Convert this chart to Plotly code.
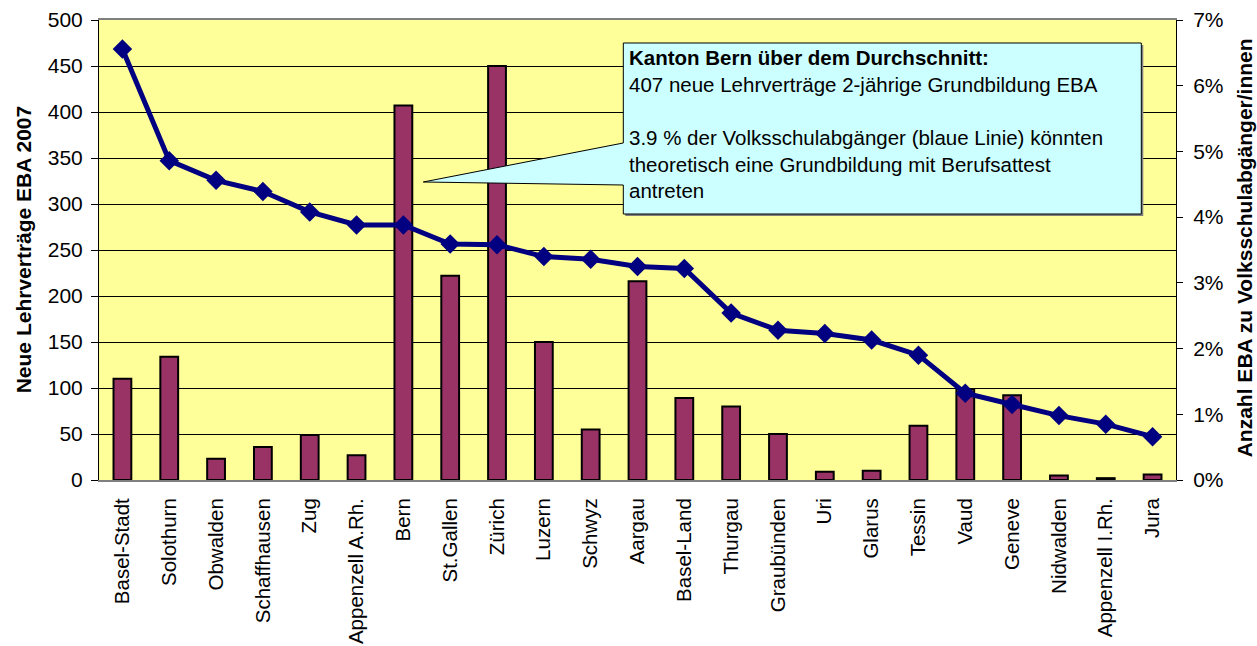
import plotly.graph_objects as go

cantons = ["Basel-Stadt", "Solothurn", "Obwalden", "Schaffhausen", "Zug", "Appenzell A.Rh.",
           "Bern", "St.Gallen", "Zürich", "Luzern", "Schwyz", "Aargau", "Basel-Land", "Thurgau",
           "Graubünden", "Uri", "Glarus", "Tessin", "Vaud", "Geneve", "Nidwalden",
           "Appenzell I.Rh.", "Jura"]
eba_2007 = [110, 134, 23, 36, 49, 27, 407, 222, 450, 150, 55, 216, 89, 80, 50, 9, 10, 59, 99, 92, 5, 2, 6]
eba_share_pct = [6.56, 4.86, 4.56, 4.39, 4.08, 3.88, 3.88, 3.59, 3.58, 3.40, 3.36, 3.25, 3.22, 2.54,
                 2.28, 2.23, 2.13, 1.90, 1.32, 1.15, 0.98, 0.85, 0.66]
eba_share = [v / 100 for v in eba_share_pct]

left_ticks = list(range(0, 501, 50))
right_ticks = [i / 100 for i in range(0, 8)]

W, H = 1257, 646
L, R, T, B = 98.7, 1175.7, 20.0, 480.0
FONT = "Liberation Sans, Arial, sans-serif"


def px(x):
    return (x - L) / (R - L)


def py(y):
    return (B - y) / (B - T)


fig = go.Figure()
fig.add_trace(go.Bar(
    x=cantons, y=eba_2007, width=0.38,
    marker=dict(color="#993366", line=dict(color="black", width=2)),
    yaxis="y", showlegend=False,
))
fig.add_trace(go.Scatter(
    x=cantons, y=eba_share, mode="lines+markers", yaxis="y2",
    line=dict(color="#000080", width=5),
    marker=dict(symbol="diamond", size=15, color="#000080"),
    showlegend=False,
))

# callout shape (box + pointer), with shadow
pts = [(623, 43), (1141, 43), (1141, 214), (623, 214), (623, 185), (423, 182), (623, 143)]


def path_of(points, dx=0, dy=0):
    s = ""
    for i, (a, b) in enumerate(points):
        s += ("M" if i == 0 else "L") + f"{px(a + dx):.5f},{py(b + dy):.5f} "
    return s + "Z"


shapes = [
    dict(type="path", xref="paper", yref="paper", path=path_of(pts[:4], 2, 2),
         fillcolor="#808080", line=dict(width=0), layer="above"),
    dict(type="path", xref="paper", yref="paper", path=path_of(pts),
         fillcolor="#CCFFFF", line=dict(color="black", width=1), layer="above"),
]

callout = ("<b>Kanton Bern über dem Durchschnitt:</b><br>"
           "407 neue Lehrverträge 2-jährige Grundbildung EBA<br><br>"
           "3.9 % der Volksschulabgänger (blaue Linie) könnten<br>"
           "theoretisch eine Grundbildung mit Berufsattest<br>"
           "antreten")

annotations = [
    dict(text=callout, xref="paper", yref="paper", x=px(627), y=py(44),
         xanchor="left", yanchor="top", align="left", showarrow=False,
         font=dict(family=FONT, size=20.5, color="black")),
    dict(text="<b>Neue Lehrverträge EBA 2007</b>", xref="paper", yref="paper",
         x=px(23), y=py(249), xanchor="center", yanchor="middle", textangle=-90,
         showarrow=False, font=dict(family=FONT, size=21, color="black")),
    dict(text="<b>Anzahl EBA zu Volksschulabgänger/innen</b>", xref="paper", yref="paper",
         x=px(1244), y=py(248), xanchor="center", yanchor="middle", textangle=-90,
         showarrow=False, font=dict(family=FONT, size=21, color="black")),
]

fig.update_layout(
    width=W, height=H, autosize=False,
    margin=dict(l=L, r=W - R, t=T, b=H - B, pad=0, autoexpand=False),
    paper_bgcolor="white", plot_bgcolor="#FFFF99",
    font=dict(family=FONT, size=21, color="black"),
    xaxis=dict(type="category", range=[-0.5, len(cantons) - 0.5], automargin=False,
               showgrid=False, ticks="", tickangle=-90,
               showline=True, linecolor="#808080", linewidth=2, mirror=True,
               tickfont=dict(size=20.5), ticklabelstandoff=8),
    yaxis=dict(range=[0, 500], tickvals=left_ticks, showgrid=True, gridcolor="black",
               gridwidth=1, zeroline=False, showline=True, linecolor="black", linewidth=1,
               ticks="outside", ticklen=7, tickcolor="black", ticklabelstandoff=4,
               automargin=False),
    yaxis2=dict(range=[0, 0.07], tickvals=right_ticks, tickformat=".0%", overlaying="y",
                side="right", showgrid=False, zeroline=False, showline=True,
                linecolor="black", linewidth=1, ticks="outside", ticklen=6,
                tickcolor="black", ticklabelstandoff=6, automargin=False),
    shapes=shapes, annotations=annotations,
)

fig.write_html("out.html", post_script="document.body.style.margin='0';",
               config={"displayModeBar": False})
